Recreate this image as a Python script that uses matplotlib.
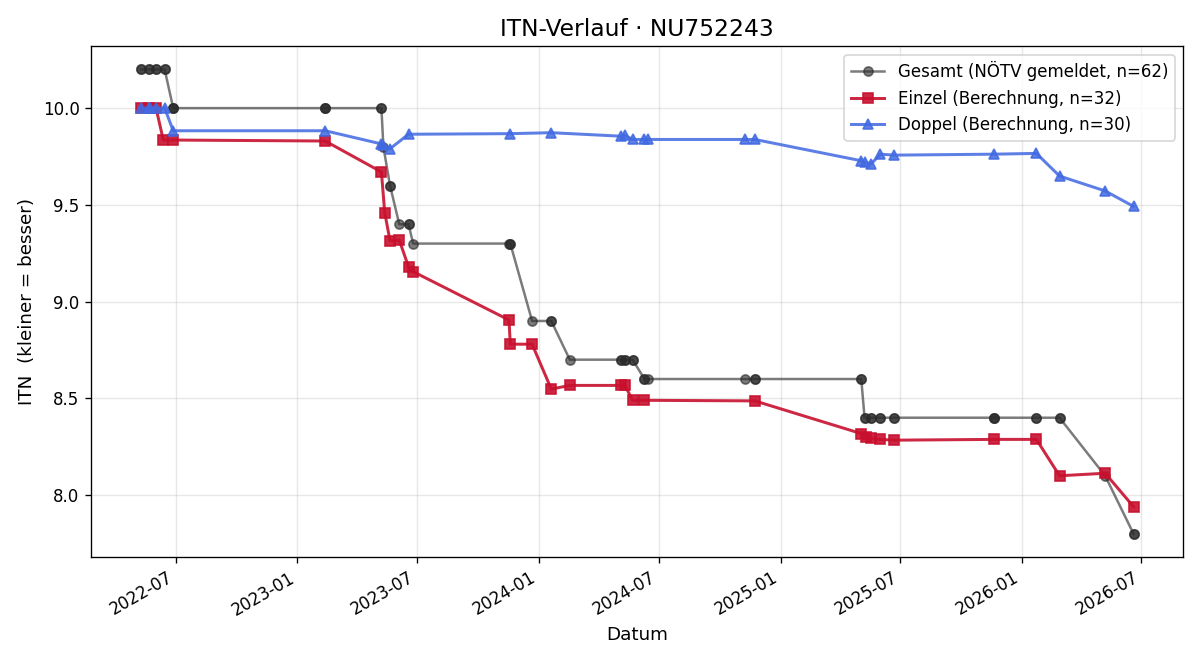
import matplotlib
matplotlib.use('Agg')
import matplotlib.pyplot as plt
import matplotlib.dates as mdates
import pandas as pd

# Gesamt (NÖTV gemeldet) - several reports share a date, hence duplicates
gesamt_dates = [
    '2022-05-09', '2022-05-09', '2022-05-21', '2022-05-21', '2022-06-01', '2022-06-01',
    '2022-06-14', '2022-06-14', '2022-06-27', '2022-06-27', '2023-02-12', '2023-02-12',
    '2023-05-08', '2023-05-08', '2023-05-11', '2023-05-21', '2023-05-21', '2023-06-04',
    '2023-06-18', '2023-06-18', '2023-06-25', '2023-11-17', '2023-11-19', '2023-11-19',
    '2023-12-22', '2024-01-20', '2024-01-20', '2024-02-17', '2024-05-04', '2024-05-04',
    '2024-05-10', '2024-05-10', '2024-05-22', '2024-05-22', '2024-06-09', '2024-06-09',
    '2024-06-14', '2024-11-08', '2024-11-23', '2024-11-23', '2025-05-03', '2025-05-03',
    '2025-05-08', '2025-05-08', '2025-05-18', '2025-05-18', '2025-06-01', '2025-06-01',
    '2025-06-22', '2025-06-22', '2025-11-20', '2025-11-20', '2026-01-23', '2026-01-23',
    '2026-02-27', '2026-02-27', '2026-05-07', '2026-06-19', '2026-06-19', '2023-02-12',
    '2022-06-27', '2025-11-20',
]
gesamt_itn = [
    10.2, 10.2, 10.2, 10.2, 10.2, 10.2,
    10.2, 10.2, 10.0, 10.0, 10.0, 10.0,
    10.0, 10.0, 9.8, 9.6, 9.6, 9.4,
    9.4, 9.4, 9.3, 9.3, 9.3, 9.3,
    8.9, 8.9, 8.9, 8.7, 8.7, 8.7,
    8.7, 8.7, 8.7, 8.7, 8.6, 8.6,
    8.6, 8.6, 8.6, 8.6, 8.6, 8.6,
    8.4, 8.4, 8.4, 8.4, 8.4, 8.4,
    8.4, 8.4, 8.4, 8.4, 8.4, 8.4,
    8.4, 8.4, 8.1, 7.8, 7.8, 10.0,
    10.0, 8.4,
]

einzel_dates = [
    '2022-05-09', '2022-05-21', '2022-06-01', '2022-06-12', '2022-06-27', '2023-02-12',
    '2023-05-08', '2023-05-13', '2023-05-21', '2023-06-04', '2023-06-18', '2023-06-25',
    '2023-11-17', '2023-11-19', '2023-12-22', '2024-01-20', '2024-02-17', '2024-05-04',
    '2024-05-10', '2024-05-22', '2024-06-09', '2024-11-23', '2025-05-03', '2025-05-10',
    '2025-05-18', '2025-06-01', '2025-06-22', '2025-11-20', '2026-01-23', '2026-02-27',
    '2026-05-07', '2026-06-19',
]
einzel_itn = [
    10.0, 10.0, 10.0, 9.835, 9.835, 9.83,
    9.67, 9.46, 9.315, 9.318, 9.18, 9.155,
    8.905, 8.78, 8.78, 8.548, 8.567, 8.567,
    8.57, 8.49, 8.49, 8.487, 8.318, 8.30,
    8.293, 8.288, 8.284, 8.288, 8.288, 8.10,
    8.113, 7.94,
]

doppel_dates = [
    '2022-05-09', '2022-05-21', '2022-05-23', '2022-06-01', '2022-06-14', '2022-06-27',
    '2023-02-12', '2023-05-08', '2023-05-11', '2023-05-21', '2023-06-18', '2023-11-19',
    '2024-01-20', '2024-05-04', '2024-05-10', '2024-05-22', '2024-06-09', '2024-06-14',
    '2024-11-08', '2024-11-23', '2025-05-03', '2025-05-08', '2025-05-18', '2025-06-01',
    '2025-06-22', '2025-11-20', '2026-01-23', '2026-02-27', '2026-05-07', '2026-06-19',
]
doppel_itn = [
    10.0, 10.0, 10.0, 10.0, 10.0, 9.883,
    9.883, 9.815, 9.81, 9.79, 9.865, 9.868,
    9.873, 9.855, 9.86, 9.838, 9.838, 9.838,
    9.838, 9.838, 9.728, 9.72, 9.712, 9.762,
    9.757, 9.762, 9.766, 9.649, 9.572, 9.492,
]

gesamt = pd.DataFrame({'date': pd.to_datetime(gesamt_dates), 'itn': gesamt_itn}).sort_values('date', kind='stable')
einzel = pd.DataFrame({'date': pd.to_datetime(einzel_dates), 'itn': einzel_itn})
doppel = pd.DataFrame({'date': pd.to_datetime(doppel_dates), 'itn': doppel_itn})

fig, ax = plt.subplots(figsize=(10, 5.5), dpi=120)

ax.plot(gesamt['date'], gesamt['itn'], marker='o', ms=5.5, lw=1.5,
        color='#2b2b2b', alpha=0.62, label=f'Gesamt (NÖTV gemeldet, n={len(gesamt)})')
ax.plot(einzel['date'], einzel['itn'], marker='s', ms=6.5, lw=1.8,
        color='#c8102e', alpha=0.9, label=f'Einzel (Berechnung, n={len(einzel)})')
ax.plot(doppel['date'], doppel['itn'], marker='^', ms=6.5, lw=1.8,
        color='#4169e1', alpha=0.85, label=f'Doppel (Berechnung, n={len(doppel)})')

ax.set_title('ITN-Verlauf · NU752243', fontsize=14)
ax.set_xlabel('Datum', fontsize=11)
ax.set_ylabel('ITN  (kleiner = besser)', fontsize=11)
ax.grid(True, alpha=0.3)
ax.xaxis.set_major_formatter(mdates.DateFormatter('%Y-%m'))
ax.legend(loc='upper right')
fig.autofmt_xdate()

fig.subplots_adjust(left=0.076, right=0.986, top=0.930, bottom=0.156)
fig.savefig('out.png', dpi=120)
plt.close(fig)
